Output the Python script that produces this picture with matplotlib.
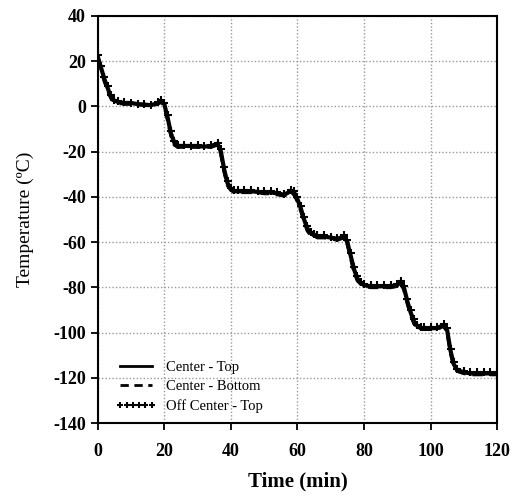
import matplotlib
matplotlib.use("Agg")
import matplotlib.pyplot as plt

# time (min)
time_min = [0, 1, 2, 3, 4, 5, 6, 8, 10, 12, 14, 16, 18, 19, 20, 21, 22, 23, 24, 26,
            28, 30, 32, 34, 36, 37, 38, 39, 40, 41, 42, 44, 46, 48, 50, 52, 54, 56, 58, 59,
            60, 61, 62, 63, 64, 65, 66, 68, 70, 72, 74, 75, 76, 77, 78, 79, 80, 82, 84, 86,
            88, 90, 91, 92, 93, 94, 95, 96, 97, 98, 100, 102, 104, 105, 106, 107, 108, 110, 112, 114,
            116, 118, 120]

# temperature (C) per thermocouple
center_top = [22, 17, 12, 8, 4, 2.5, 2, 1.5, 1.5, 1, 0.8, 0.5, 1.5, 2.5, 1, -5, -12, -16, -17.5, -17.5,
              -17.5, -17.5, -17.8, -17.5, -16.5, -20, -28, -34, -36.5, -37.5, -37.5, -37.5, -37.5, -37.8, -38, -38, -38.5, -39, -37.5, -38,
              -41, -45, -50, -54, -56, -57, -57.5, -57.5, -58, -58.5, -57.5, -60, -66, -72, -76, -78, -79, -79.5, -79.5, -79.5,
              -79.5, -79, -77.5, -80, -86, -91, -95, -97, -98, -98, -98, -98, -96.5, -99, -108, -114, -116.5, -117.5, -118, -118,
              -118, -118, -118]
center_bottom = [21, 16, 11, 7, 3.5, 2, 1.5, 1, 1, 0.8, 0.5, 0.3, 1, 2, 0, -6, -13, -17, -18, -18,
                 -18, -18, -18, -18, -17, -21, -29, -35, -37, -38, -38, -38, -38, -38, -38.5, -38.5, -39, -39.5, -38, -39,
                 -42, -46, -51, -55, -57, -57.5, -58, -58, -58.5, -59, -58, -61, -67, -73, -77, -78.5, -79.5, -80, -80, -80,
                 -80, -79.5, -78, -81, -87, -92, -96, -97.5, -98.5, -98.5, -98.5, -98.5, -97, -100, -109, -115, -117, -118, -118.5, -118.5,
                 -118.5, -118.5, -118.5]
off_center_top = [22.5, 18, 13, 9, 5, 3, 2.5, 2, 1.5, 1.2, 1, 0.8, 2, 3, 1.5, -4, -11, -15.5, -17, -17,
                  -17.5, -17, -17.5, -17, -16, -19, -27, -33, -36, -37, -37, -37, -37, -37.5, -37.5, -37.5, -38, -38.5, -37, -37.5,
                  -40, -44, -49, -53, -55.5, -56.5, -57, -57, -57.5, -58, -57, -59, -65, -71, -75, -77.5, -78.5, -79, -79, -79,
                  -79, -78.5, -77, -79.5, -85, -90, -94, -96.5, -97.5, -97.5, -97.5, -97.5, -96, -98, -107, -113, -116, -117, -117.5, -117.5,
                  -117.5, -117.5, -117.5]

x_ticks = [0, 20, 40, 60, 80, 100, 120]
y_ticks = [40, 20, 0, -20, -40, -60, -80, -100, -120, -140]

plt.rcParams['font.family'] = ['Liberation Serif', 'DejaVu Serif']
plt.rcParams['axes.unicode_minus'] = False

fig = plt.figure(figsize=(5.2, 4.95), dpi=100)
ax = fig.add_axes([0.188, 0.145, 0.768, 0.823])

ax.plot(time_min, center_top, color='black', lw=3, label='Center - Top')
ax.plot(time_min, center_bottom, color='black', lw=2.5, ls=(0, (3, 2)), label='Center - Bottom')
ax.plot(time_min, off_center_top, color='black', lw=0, marker='+', ms=6, mew=1.5,
        label='Off Center - Top')

ax.set_xlim(0, 120)
ax.set_ylim(-140, 40)
ax.set_xticks(x_ticks)
ax.set_yticks(y_ticks)
ax.grid(True, color='#999999', ls=(0, (1, 1.5)), lw=1)
for s in ax.spines.values():
    s.set_linewidth(1.5)
ax.tick_params(direction='out', length=5, width=1.3, labelsize=13)
ax.tick_params(axis='x', pad=9.5)
for lab in ax.get_xticklabels() + ax.get_yticklabels():
    lab.set_fontweight('bold')

ax.set_xlabel('Time (min)', fontsize=15, fontweight='bold', labelpad=8)
ax.set_ylabel('Temperature (\u00baC)', fontsize=14, labelpad=14)

leg = ax.legend(loc='lower left', frameon=False, fontsize=10.5, handlelength=2.75,
                borderaxespad=0.3, labelspacing=0.42, handletextpad=0.7, numpoints=6,
                bbox_to_anchor=(0.02, 0.0))
for h in leg.legend_handles:
    h.set_markersize(4)
    h.set_linewidth(min(h.get_linewidth(), 2))

fig.savefig('out.png', dpi=100)
